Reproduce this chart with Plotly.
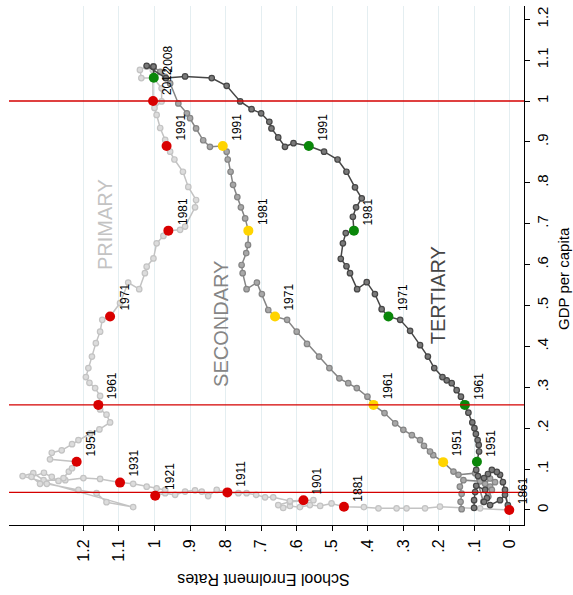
import plotly.graph_objects as go

# ---------------- data (enrolment rate, GDP per capita) ----------------
primary_enrol = [0.002, 0.084, 0.197, 0.239, 0.291, 0.319, 0.370, 0.411, 0.467,
                 0.502, 0.534, 0.563, 0.591, 0.619, 0.638, 0.652, 0.619, 0.553, 0.581,
                 0.619, 0.666, 0.689, 0.714, 0.741, 0.764, 0.795,
                 0.825, 0.849, 0.867, 0.886, 0.914, 0.942, 0.970, 0.998,
                 0.970, 0.994, 1.022, 1.060, 1.097,
                 1.153, 1.200, 1.251, 1.312, 1.341, 1.371, 1.060, 1.135, 1.163, 1.214,
                 1.303, 1.322, 1.346, 1.311, 1.289, 1.270, 1.256, 1.241, 1.232, 1.219,
                 1.294, 1.289, 1.261, 1.232, 1.214, 1.181, 1.155, 1.125, 1.135, 1.153, 1.158,
                 1.153, 1.167, 1.183, 1.193, 1.186, 1.176, 1.165, 1.153, 1.147, 1.125,
                 1.097, 1.074, 1.043, 1.027, 1.022, 1.003, 0.994, 0.975, 0.961,
                 0.928, 0.914, 0.886, 0.883, 0.905, 0.920, 0.944, 0.956, 0.966,
                 0.970, 0.984, 0.994, 1.000, 0.980, 0.980, 1.003, 1.037, 1.041, 1.022, 1.005, 1.004]
primary_gdp = [0.000, 0.004, 0.008, 0.004, 0.004, 0.004, 0.004, 0.007, 0.008,
               0.016, 0.010, 0.012, 0.007, 0.010, 0.005, 0.012, 0.020, 0.024, 0.024,
               0.022, 0.031, 0.031, 0.037, 0.041, 0.041, 0.043,
               0.049, 0.034, 0.045, 0.048, 0.045, 0.037, 0.041, 0.035,
               0.049, 0.053, 0.057, 0.064, 0.067,
               0.076, 0.078, 0.073, 0.073, 0.090, 0.083, 0.007, 0.019, 0.041, 0.049,
               0.064, 0.064, 0.081, 0.091, 0.081, 0.071, 0.078, 0.094, 0.102, 0.118,
               0.124, 0.140, 0.146, 0.161, 0.171, 0.187, 0.197, 0.214, 0.233, 0.246, 0.257,
               0.279, 0.298, 0.311, 0.325, 0.347, 0.375, 0.408, 0.436, 0.465, 0.473,
               0.506, 0.556, 0.540, 0.579, 0.595, 0.615, 0.652, 0.670, 0.683,
               0.685, 0.693, 0.740, 0.758, 0.790, 0.827, 0.857, 0.876, 0.890,
               0.905, 0.934, 0.966, 0.983, 0.999, 1.031, 1.056, 1.056, 1.076, 1.084, 1.076, 1.000]

secondary_enrol = [0.136, 0.139, 0.136, 0.141, 0.131, 0.084, 0.070, 0.056, 0.042, 0.056,
                   0.051, 0.061, 0.075, 0.098, 0.145, 0.159, 0.188,
                   0.216, 0.225, 0.242, 0.253, 0.276, 0.300, 0.323, 0.353, 0.384,
                   0.401, 0.431, 0.455, 0.480, 0.508, 0.537, 0.571, 0.600, 0.627, 0.661,
                   0.680, 0.698, 0.712, 0.741, 0.752, 0.755, 0.742, 0.737, 0.736,
                   0.745, 0.757, 0.767, 0.779, 0.786, 0.794, 0.797, 0.808,
                   0.844, 0.863, 0.883, 0.900, 0.909, 0.933, 0.956, 0.970, 0.984, 1.003]
secondary_gdp = [0.002, 0.020, 0.040, 0.057, 0.073, 0.070, 0.064, 0.077, 0.068, 0.057,
                 0.049, 0.033, 0.020, 0.090, 0.086, 0.094, 0.117,
                 0.134, 0.143, 0.157, 0.171, 0.183, 0.196, 0.212, 0.237, 0.257,
                 0.277, 0.298, 0.310, 0.322, 0.347, 0.375, 0.406, 0.436, 0.465, 0.473,
                 0.489, 0.528, 0.556, 0.540, 0.579, 0.599, 0.628, 0.648, 0.683,
                 0.713, 0.740, 0.765, 0.795, 0.827, 0.857, 0.876, 0.890,
                 0.888, 0.904, 0.933, 0.958, 0.970, 0.994, 1.043, 1.059, 1.071, 1.085]

tertiary_enrol = [0.101, 0.101, 0.098, 0.095, 0.070, 0.065, 0.073, 0.056, 0.028, 0.014,
                  0.006, 0.014, 0.020, 0.028, 0.037, 0.051, 0.062, 0.073, 0.090, 0.095, 0.093,
                  0.087, 0.088, 0.091, 0.096, 0.100, 0.106, 0.117, 0.127,
                  0.138, 0.150, 0.164, 0.178, 0.190, 0.213, 0.231, 0.253, 0.281, 0.309, 0.342,
                  0.361, 0.380, 0.403, 0.430, 0.450, 0.460, 0.476, 0.470, 0.462, 0.439,
                  0.442, 0.433, 0.417, 0.436, 0.460, 0.485, 0.523, 0.566,
                  0.609, 0.633, 0.652, 0.671, 0.677, 0.700, 0.727, 0.759, 0.797, 0.839,
                  0.914, 0.968, 1.022, 1.003, 1.002]
tertiary_gdp = [0.005, 0.024, 0.044, 0.059, 0.049, 0.029, 0.020, 0.012, 0.024, 0.037,
                0.012, 0.049, 0.068, 0.086, 0.093, 0.098, 0.088, 0.078, 0.083, 0.098, 0.118,
                0.143, 0.159, 0.171, 0.186, 0.200, 0.214, 0.238, 0.257,
                0.277, 0.293, 0.310, 0.317, 0.325, 0.347, 0.375, 0.403, 0.438, 0.465, 0.473,
                0.491, 0.528, 0.557, 0.540, 0.579, 0.596, 0.614, 0.652, 0.677, 0.683,
                0.717, 0.740, 0.762, 0.789, 0.827, 0.857, 0.876, 0.890,
                0.897, 0.888, 0.911, 0.933, 0.949, 0.970, 0.980, 0.999, 1.037, 1.056,
                1.060, 1.056, 1.086, 1.084, 1.057]

# highlighted years
primary_years = ["1861", "1881", "1901", "1911", "1921", "1931", "1951", "1961", "1971", "1981", "1991", "2012"]
primary_hl_enrol = [0.002, 0.467, 0.581, 0.795, 0.998, 1.097, 1.219, 1.158, 1.125, 0.961, 0.966, 1.004]
primary_hl_gdp = [0.000, 0.008, 0.024, 0.043, 0.035, 0.067, 0.118, 0.257, 0.473, 0.683, 0.890, 1.000]

secondary_years = ["1951", "1961", "1971", "1981", "1991"]
secondary_hl_enrol = [0.188, 0.384, 0.661, 0.736, 0.808]
secondary_hl_gdp = [0.117, 0.257, 0.473, 0.683, 0.890]

tertiary_years = ["1951", "1961", "1971", "1981", "1991", "2008"]
tertiary_hl_enrol = [0.093, 0.127, 0.342, 0.439, 0.566, 1.002]
tertiary_hl_gdp = [0.118, 0.257, 0.473, 0.683, 0.890, 1.057]

# reference GDP levels (1911, 1961, 2012)
ref_gdp = [primary_hl_gdp[3], primary_hl_gdp[7], primary_hl_gdp[11]]

x_ticks = [1.2, 1.1, 1.0, 0.9, 0.8, 0.7, 0.6, 0.5, 0.4, 0.3, 0.2, 0.1, 0.0]
x_ticktext = ["1.2", "1.1", "1", ".9", ".8", ".7", ".6", ".5", ".4", ".3", ".2", ".1", "0"]
y_ticks = [0.0, 0.1, 0.2, 0.3, 0.4, 0.5, 0.6, 0.7, 0.8, 0.9, 1.0, 1.1, 1.2]
y_ticktext = ["0", ".1", ".2", ".3", ".4", ".5", ".6", ".7", ".8", ".9", "1", "1.1", "1.2"]

FONT = "Liberation Sans, Arial, Helvetica, sans-serif"

fig = go.Figure()

series = [
    (primary_enrol, primary_gdp, "#c3c3c3", "#dcdcdc"),
    (secondary_enrol, secondary_gdp, "#858585", "#a8a8a8"),
    (tertiary_enrol, tertiary_gdp, "#464646", "#7a7a7a"),
]
for xs, ys, col, fill in series:
    fig.add_trace(go.Scatter(
        x=xs, y=ys, mode="lines+markers",
        line=dict(color=col, width=1.5),
        marker=dict(size=5.5, color=fill, line=dict(color=col, width=1.2)),
        hoverinfo="skip", showlegend=False,
    ))

highlights = [
    (primary_hl_enrol, primary_hl_gdp, primary_years, "#d90000"),
    (secondary_hl_enrol, secondary_hl_gdp, secondary_years, "#ffd400"),
    (tertiary_hl_enrol, tertiary_hl_gdp, tertiary_years, "#0a870a"),
]
for xs, ys, yrs, col in highlights:
    fig.add_trace(go.Scatter(
        x=xs, y=ys, mode="markers",
        marker=dict(size=10, color=col, line=dict(width=0)),
        hoverinfo="skip", showlegend=False,
    ))

annotations = []
for xs, ys, yrs, col in highlights:
    for xv, yv, t in zip(xs, ys, yrs):
        annotations.append(dict(
            x=xv, y=yv, xref="x", yref="y", text=t, showarrow=False,
            textangle=-90, xshift=14, yshift=19, xanchor="center", yanchor="middle",
            font=dict(family=FONT, size=12, color="#000000"),
        ))

for txt, xv, yv, col in [("PRIMARY", 1.139, 0.697, "#c3c3c3"),
                         ("SECONDARY", 0.813, 0.455, "#858585"),
                         ("TERTIARY", 0.204, 0.526, "#464646")]:
    annotations.append(dict(
        x=xv, y=yv, xref="x", yref="y", text=txt, showarrow=False,
        textangle=-90, xanchor="center", yanchor="middle",
        font=dict(family=FONT, size=20, color=col),
    ))

annotations.append(dict(
    x=0.493, y=(525 - 580) / 519, xref="paper", yref="paper", text="School Enrolment Rates",
    showarrow=False, textangle=180, xanchor="center", yanchor="middle",
    font=dict(family=FONT, size=16, color="#000000"),
))
annotations.append(dict(
    x=1.0, y=(525 - 279) / 519, xref="paper", yref="paper", text="GDP per capita",
    showarrow=False, textangle=-90, xshift=39, xanchor="center", yanchor="middle",
    font=dict(family=FONT, size=15, color="#000000"),
))

shapes = []
for g in ref_gdp:
    shapes.append(dict(type="line", xref="paper", x0=0, x1=1, yref="y", y0=g, y1=g,
                       line=dict(color="#d40000", width=1.4), layer="above"))

fig.update_layout(
    width=573, height=595,
    margin=dict(l=9, r=49, t=6, b=70),
    paper_bgcolor="white", plot_bgcolor="white",
    annotations=annotations, shapes=shapes,
    font=dict(family=FONT, color="#000000"),
    xaxis=dict(
        range=[1.4093, -0.0394], tickvals=x_ticks, ticktext=x_ticktext,
        tickangle=-90, ticks="outside", ticklen=5, tickcolor="#000000",
        tickfont=dict(family=FONT, size=16, color="#000000"),
        showline=True, linecolor="#000000", linewidth=1,
        showgrid=True, gridcolor="#e4eef1", gridwidth=1, zeroline=False,
        ticklabelstandoff=2, automargin=False,
    ),
    yaxis=dict(
        range=[-0.0367, 1.2323], side="right", tickvals=y_ticks, ticktext=y_ticktext,
        tickangle=-90, ticks="outside", ticklen=5, tickcolor="#000000",
        tickfont=dict(family=FONT, size=15, color="#000000"),
        showline=True, linecolor="#000000", linewidth=1,
        showgrid=False, zeroline=False, automargin=False,
    ),
)

fig.write_html(
    "out.html",
    config={"displayModeBar": False},
    post_script="document.body.style.margin='0px';document.body.style.overflow='hidden';",
)
